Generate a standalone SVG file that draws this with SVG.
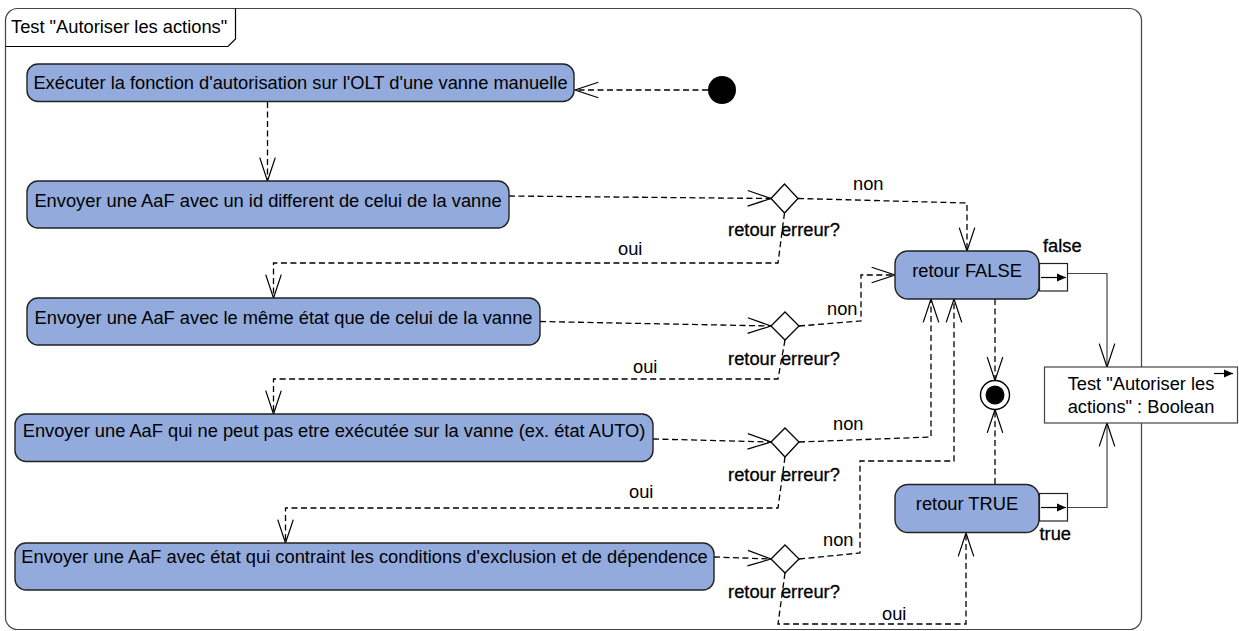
<svg xmlns="http://www.w3.org/2000/svg" width="1239" height="631" viewBox="0 0 1239 631">
<defs>
<style>
.frame{fill:#fff;stroke:#444;stroke-width:1.2}
.act{fill:#92ABDC;stroke:#222;stroke-width:1.4}
.t{font-family:"Liberation Sans",Arial,sans-serif;font-size:18.3px;fill:#000}
.m{text-anchor:middle}
.b{stroke:#000;stroke-width:0.3}
.dash{fill:none;stroke:#000;stroke-width:1.3;stroke-dasharray:6,3.5}
.solid{fill:none;stroke:#444;stroke-width:1.2}
.dia{fill:#fff;stroke:#000;stroke-width:1.3}
.pin{fill:#fff;stroke:#222;stroke-width:1.2}
</style>
<marker id="open" markerUnits="userSpaceOnUse" markerWidth="30" markerHeight="20" refX="0" refY="0" viewBox="-23 -9 25 18" orient="auto" overflow="visible">
<path d="M-21,-7 L0,0 L-21,7" fill="none" stroke="#000" stroke-width="1.1" stroke-dasharray="none"/>
</marker>
<marker id="fill" markerUnits="userSpaceOnUse" markerWidth="12" markerHeight="10" refX="0" refY="0" viewBox="-10 -5 11 10" orient="auto" overflow="visible">
<path d="M-9,-4 L0,0 L-9,4 Z" fill="#000" stroke="none"/>
</marker>
</defs>

<g id="frame">
<path class="frame" d="M5.5,20.5 A12,12 0 0 1 17.5,8.5 L1129.5,8.5 A12,12 0 0 1 1141.5,20.5 L1141.5,617.5 A12,12 0 0 1 1129.5,629.5 L17.5,629.5 A12,12 0 0 1 5.5,617.5 Z"/>
<path d="M5.5,46.5 L228,46.5 L235.5,39 L235.5,8.5" fill="none" stroke="#000" stroke-width="1.2"/>
<text class="t" x="11" y="33">Test "Autoriser les actions"</text>
</g>

<g id="connectors">
<path class="dash" d="M708,90 L575,90" marker-end="url(#open)"/>
<path class="dash" d="M267.5,102 L267.5,181" marker-end="url(#open)"/>
<path class="dash" d="M509,196 L771,198.5" marker-end="url(#open)"/>
<path class="dash" d="M798,198.5 L967,203 L967,251" marker-end="url(#open)"/>
<path class="dash" d="M784.5,213 L778,263 L273.5,263 L273.5,298" marker-end="url(#open)"/>
<path class="dash" d="M540,321.5 L771,326" marker-end="url(#open)"/>
<path class="dash" d="M799,326 L861,321 L861,275 L895,275" marker-end="url(#open)"/>
<path class="dash" d="M785,340 L778,379 L273.5,379 L273.5,414" marker-end="url(#open)"/>
<path class="dash" d="M653,439 L771,442" marker-end="url(#open)"/>
<path class="dash" d="M799,442 L931,437 L931,299" marker-end="url(#open)"/>
<path class="dash" d="M785,457 L778,508 L285.5,508 L285.5,543" marker-end="url(#open)"/>
<path class="dash" d="M714,557 L771,559" marker-end="url(#open)"/>
<path class="dash" d="M799,559 L860,553 L860,461 L954,461 L954,299" marker-end="url(#open)"/>
<path class="dash" d="M785,573 L778,624 L966,624 L966,533" marker-end="url(#open)"/>
<path class="dash" d="M995,299 L995,380.5" marker-end="url(#open)"/>
<path class="dash" d="M995,484 L995,409.5" marker-end="url(#open)"/>
<path class="solid" d="M1068,273.5 L1107,273.5 L1107,367" marker-end="url(#open)"/>
<path class="solid" d="M1068,507.5 L1107,507.5 L1107,423" marker-end="url(#open)"/>
<text class="t" x="853" y="190">non</text>
<text class="t" x="827" y="315">non</text>
<text class="t" x="833" y="430">non</text>
<text class="t" x="823" y="546">non</text>
<text class="t" x="618" y="255">oui</text>
<text class="t" x="633" y="373">oui</text>
<text class="t" x="629" y="498">oui</text>
<text class="t" x="882" y="620">oui</text>
</g>

<g id="initial"><circle cx="722" cy="90" r="14" fill="#000"/></g>

<g id="a1"><rect class="act" x="27" y="64" width="547" height="37.5" rx="11"/><text class="t m" x="300.5" y="89">Exécuter la fonction d'autorisation sur l'OLT d'une vanne manuelle</text></g>
<g id="a2"><rect class="act" x="27" y="181" width="482" height="47" rx="11"/><text class="t m" x="268" y="207">Envoyer une AaF avec un id different de celui de la vanne</text></g>
<g id="a3"><rect class="act" x="27" y="298" width="513" height="47" rx="11"/><text class="t m" x="283.5" y="323.5">Envoyer une AaF avec le même état que de celui de la vanne</text></g>
<g id="a4"><rect class="act" x="15" y="414" width="638" height="47.5" rx="11"/><text class="t m" x="334" y="437">Envoyer une AaF qui ne peut pas etre exécutée sur la vanne (ex. état AUTO)</text></g>
<g id="a5"><rect class="act" x="15" y="543" width="699" height="47" rx="11"/><text class="t m" x="364.5" y="562.5">Envoyer une AaF avec état qui contraint les conditions d'exclusion et de dépendence</text></g>

<g id="d1"><polygon class="dia" points="771,198.5 784.5,184 798,198.5 784.5,213"/><text class="t m b" x="784" y="236">retour erreur?</text></g>
<g id="d2"><polygon class="dia" points="771,326 785,312 799,326 785,340"/><text class="t m b" x="784" y="365">retour erreur?</text></g>
<g id="d3"><polygon class="dia" points="771,442 785,428 799,442 785,457"/><text class="t m b" x="784" y="481">retour erreur?</text></g>
<g id="d4"><polygon class="dia" points="771,559 785,545 799,559 785,573"/><text class="t m b" x="784" y="598">retour erreur?</text></g>

<g id="false">
<rect class="act" x="895" y="251" width="144" height="48" rx="13"/>
<text class="t m" x="967" y="277">retour FALSE</text>
<rect class="pin" x="1039.5" y="263.5" width="28" height="27.5"/>
<path d="M1041,277.5 L1066,277.5" stroke="#000" stroke-width="1.2" marker-end="url(#fill)"/>
<text class="t b" x="1043" y="252">false</text>
</g>

<g id="true">
<rect class="act" x="895" y="484.5" width="144" height="48" rx="13"/>
<text class="t m" x="967" y="510">retour TRUE</text>
<rect class="pin" x="1039.5" y="493.5" width="28" height="27.5"/>
<path d="M1041,507.5 L1066,507.5" stroke="#000" stroke-width="1.2" marker-end="url(#fill)"/>
<text class="t b" x="1039.5" y="540">true</text>
</g>

<g id="final">
<circle cx="995" cy="395" r="14.5" fill="#fff" stroke="#000" stroke-width="1.4"/>
<circle cx="995" cy="395" r="9.5" fill="#000"/>
</g>

<g id="result">
<rect x="1044.5" y="367" width="193" height="56" fill="#fff" stroke="#444" stroke-width="1.2"/>
<path d="M1214,373.5 L1233,373.5" stroke="#000" stroke-width="1.2" marker-end="url(#fill)"/>
<text class="t m" x="1141" y="390">Test "Autoriser les</text>
<text class="t m" x="1141" y="413">actions" : Boolean</text>
</g>
</svg>
